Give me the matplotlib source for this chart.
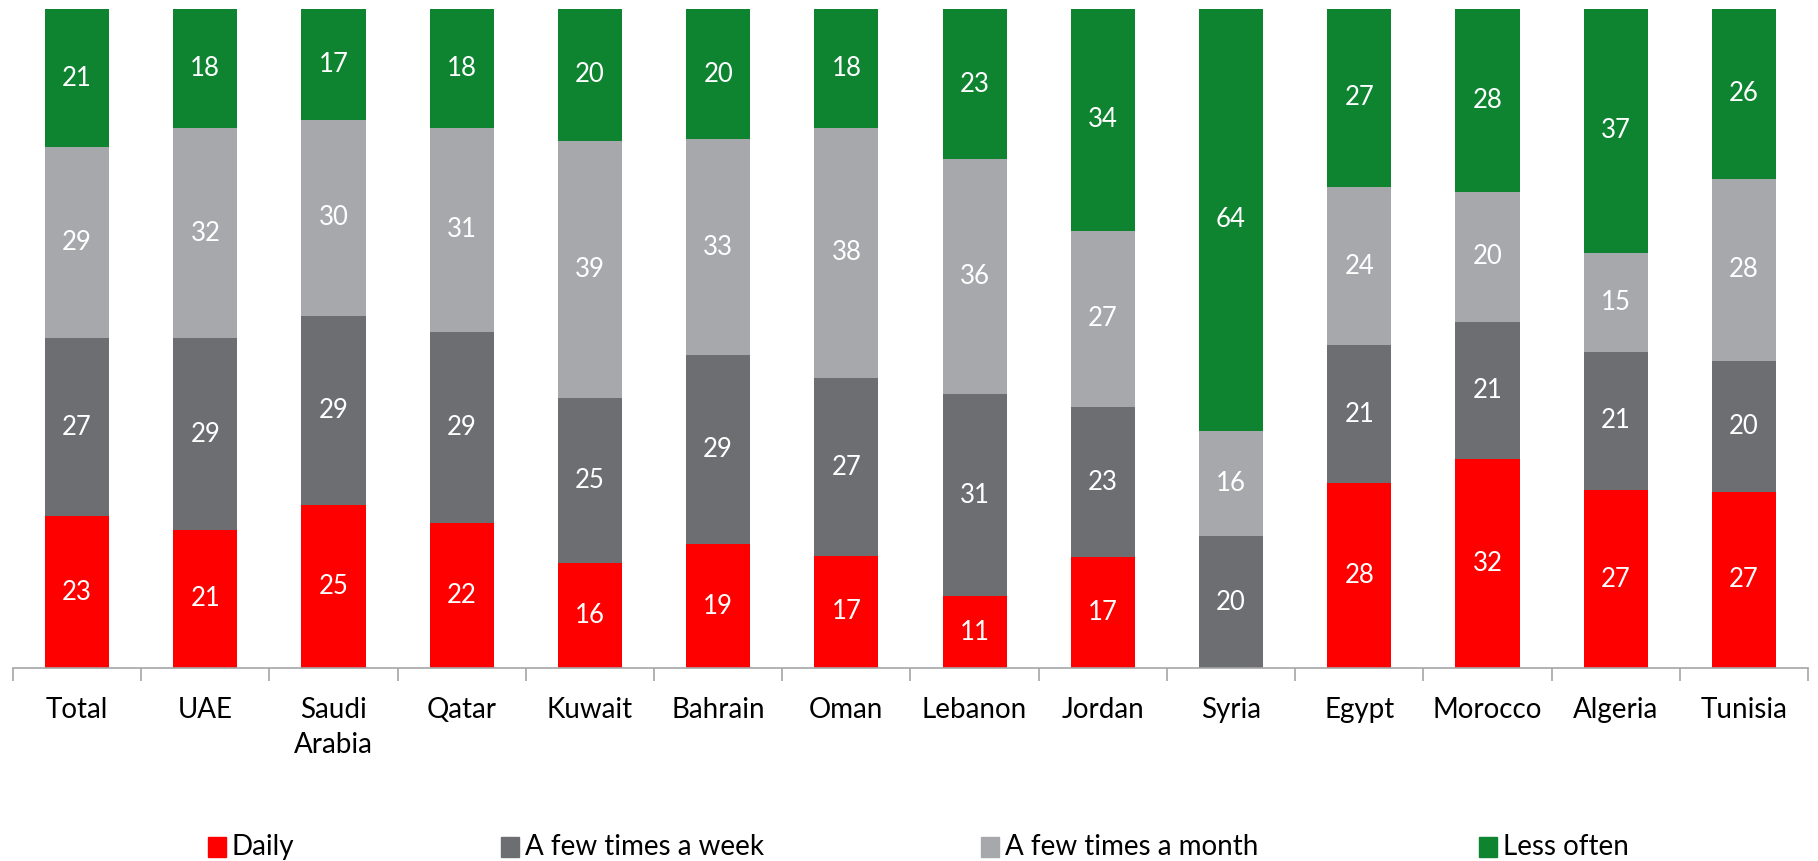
import matplotlib
matplotlib.use("Agg")
import matplotlib.pyplot as plt
from matplotlib.patches import Rectangle
import numpy as np

categories = ["Total", "UAE", "Saudi\nArabia", "Qatar", "Kuwait", "Bahrain", "Oman",
              "Lebanon", "Jordan", "Syria", "Egypt", "Morocco", "Algeria", "Tunisia"]
series_names = ["Daily", "A few times a week", "A few times a month", "Less often"]
daily = [23, 21, 25, 22, 16, 19, 17, 11, 17, 0, 28, 32, 27, 27]
week = [27, 29, 29, 29, 25, 29, 27, 31, 23, 20, 21, 21, 21, 20]
month = [29, 32, 30, 31, 39, 33, 38, 36, 27, 16, 24, 20, 15, 28]
less = [21, 18, 17, 18, 20, 20, 18, 23, 34, 64, 27, 28, 37, 26]
colors = ["#FF0000", "#6D6E71", "#A7A8AB", "#0E8431"]

plt.rcParams['font.family'] = ['Lato', 'DejaVu Sans']

W, H = 1818, 861
fig = plt.figure(figsize=(W / 100, H / 100), dpi=100)
left, right, bottom, top = 13, 1808, 668, 9
ax = fig.add_axes([left / W, 1 - bottom / H, (right - left) / W, (bottom - top) / H])

data = np.array([daily, week, month, less], dtype=float)
totals = data.sum(axis=0)
pct = data / totals * 100

x = np.arange(len(categories))
cum = np.zeros(len(categories))
for vals, raw, c in zip(pct, data, colors):
    ax.bar(x, vals, bottom=cum, width=0.5, color=c, edgecolor="none")
    for xi, v, r, b in zip(x, vals, raw, cum):
        if r > 0:
            ax.text(xi, b + v / 2, f"{int(r)}", ha="center", va="center",
                    color="white", fontsize=18.5)
    cum += vals

ax.set_xlim(-0.5, len(categories) - 0.5)
ax.set_ylim(0, 100)
for s in ["left", "right", "top"]:
    ax.spines[s].set_visible(False)
ax.spines["bottom"].set_color("#A6A6A6")
ax.spines["bottom"].set_linewidth(1.2)
ax.set_yticks([])
ax.set_xticks(x)
ax.set_xticklabels(categories, fontsize=20, color="black", linespacing=1.4)
ax.tick_params(axis="x", which="major", length=0, pad=21)
ax.set_xticks(np.arange(-0.5, len(categories)), minor=True)
ax.tick_params(axis="x", which="minor", length=9, width=1.2, color="#A6A6A6")

# legend
marker_x = [208, 501, 981, 1479]
ly = 847
for mx, name, c in zip(marker_x, series_names, colors):
    fig.patches.append(Rectangle((mx / W, 1 - (ly + 10) / H), 18 / W, 20 / H,
                                 transform=fig.transFigure, color=c))
    fig.text((mx + 24) / W, 1 - ly / H, name, ha="left", va="center",
             fontsize=20, color="black")

fig.savefig("out.png", dpi=100)
